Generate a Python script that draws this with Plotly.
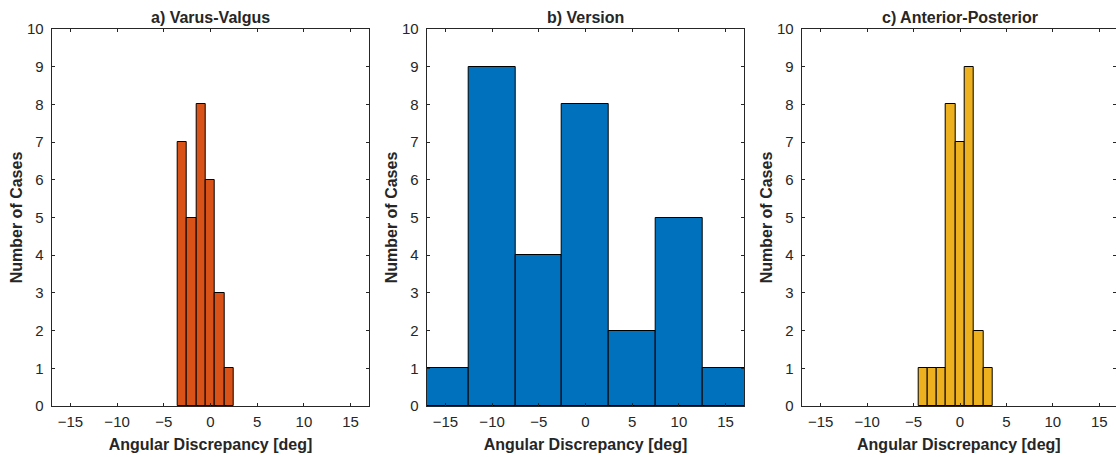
import plotly.graph_objects as go

# ---- data ----
varus_centers = [-3, -2, -1, 0, 1, 2]
varus_counts = [7, 5, 8, 6, 3, 1]
version_centers = [-15, -10, -5, 0, 5, 10, 15]
version_counts = [1, 9, 4, 8, 2, 5, 1]
ap_centers = [-4, -3, -2, -1, 0, 1, 2, 3]
ap_counts = [1, 1, 1, 8, 7, 9, 2, 1]

titles = ["a) Varus-Valgus", "b) Version", "c) Anterior-Posterior"]
xtick_vals = [-15, -10, -5, 0, 5, 10, 15]
ytick_vals = list(range(0, 11))

W, H = 1116, 457
FONT = "Liberation Sans, Arial, sans-serif"
TXT = "#262626"

panels = [
    (varus_centers, varus_counts, 1.0, "#D95319", (51.7, 369.3)),
    (version_centers, version_counts, 5.0, "#0072BD", (426.7, 744.3)),
    (ap_centers, ap_counts, 1.0, "#EDB120", (801.7, 1116.0)),
]

fig = go.Figure()
layout = dict(
    width=W, height=H,
    margin=dict(l=0, r=0, t=29, b=51, pad=0),
    paper_bgcolor="white", plot_bgcolor="white",
    showlegend=False, bargap=0,
    font=dict(family=FONT, color=TXT, size=15),
)
annotations = []
for i, (cx, cnt, w, col, (x0, x1)) in enumerate(panels):
    n = "" if i == 0 else str(i + 1)
    fig.add_trace(go.Bar(
        x=cx, y=cnt, width=[w] * len(cx),
        marker=dict(color=col, line=dict(color="black", width=1)),
        xaxis="x" + n, yaxis="y" + n, hoverinfo="x+y",
    ))
    dom = [x0 / W, x1 / W]
    rng_x = [-17, 17] if i < 2 else [-17.05, 16.8]
    layout["xaxis" + n] = dict(
        domain=dom, range=rng_x, anchor="y" + n,
        tickmode="array", tickvals=xtick_vals,
        ticks="inside", ticklen=3, tickcolor=TXT, tickwidth=1,
        showline=True, linecolor=TXT, linewidth=1, mirror="ticks",
        showgrid=False, zeroline=False,
        tickfont=dict(size=15, color=TXT),
        ticklabelstandoff=2,
        title=dict(text="<b>Angular Discrepancy [deg]</b>",
                   font=dict(size=16, color=TXT), standoff=9),
        fixedrange=True,
    )
    layout["yaxis" + n] = dict(
        domain=[0, 1], range=[0, 10], anchor="x" + n,
        tickmode="array", tickvals=ytick_vals,
        ticks="inside", ticklen=3, tickcolor=TXT, tickwidth=1,
        showline=True, linecolor=TXT, linewidth=1, mirror="ticks",
        showgrid=False, zeroline=False,
        tickfont=dict(size=15, color=TXT),
        ticklabelstandoff=4,
        title=dict(text="<b>Number of Cases</b>",
                   font=dict(size=16, color=TXT), standoff=0),
        fixedrange=True,
    )
    annotations.append(dict(
        text="<b>" + titles[i] + "</b>",
        x=(x0 + x1) / 2 / W if i < 2 else (x0 + 1117.8) / 2 / W,
        y=1, xref="paper", yref="paper",
        xanchor="center", yanchor="bottom", yshift=1, showarrow=False,
        font=dict(size=16, color=TXT, family=FONT),
    ))
layout["annotations"] = annotations
fig.update_layout(**layout)
fig.write_html("out.html", config={"displayModeBar": False})
